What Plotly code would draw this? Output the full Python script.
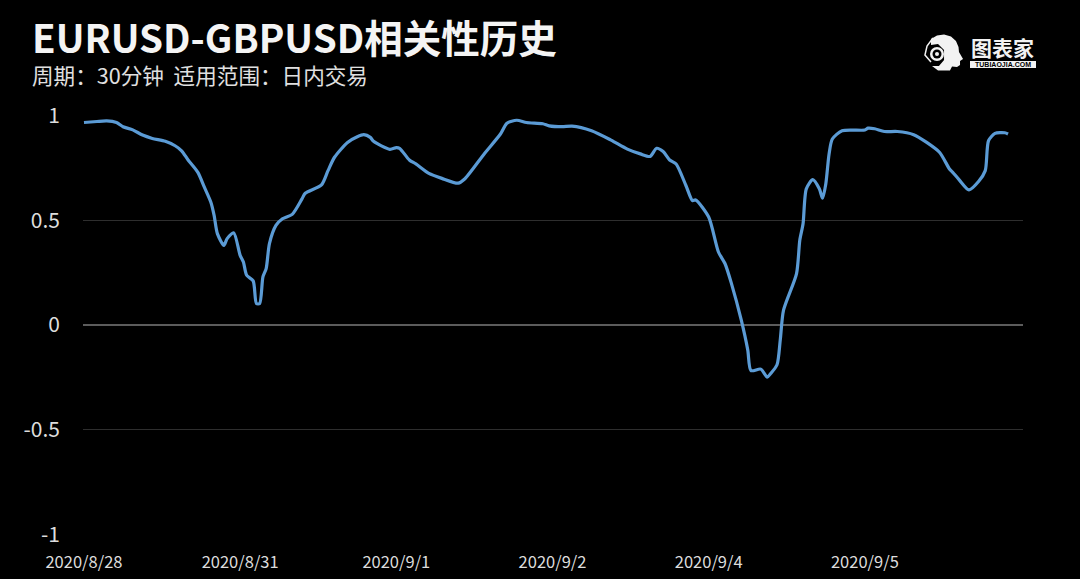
import plotly.graph_objects as go

W = 1080
H = 579
FONT = "Noto Sans CJK SC"

tick_bars = [0, 48, 96, 144, 192, 240]
tick_labels = ["2020/8/28", "2020/8/31", "2020/9/1", "2020/9/2", "2020/9/4", "2020/9/5"]
y_ticks = [-1, -0.5, 0, 0.5, 1]
y_labels = ["-1", "-0.5", "0", "0.5", "1"]

# half hour bars
bars = [0, 4, 7, 10, 12, 15, 18, 21, 25, 28, 30, 32, 35, 37, 39, 40, 41, 43, 44, 46, 48, 49, 50, 52, 53, 54,
        55, 56, 57, 59, 61, 64, 67, 68, 73, 75, 77, 81, 84, 86, 88, 89, 94, 96, 97, 100, 102, 106, 110, 115,
        117, 123, 128, 130, 133, 136, 141, 143, 147, 150, 156, 162, 167, 171, 174, 176, 178, 180, 182, 185,
        187, 188, 192, 195, 197, 199, 202, 204, 205, 208, 210, 211, 213, 214, 215, 219, 220, 221, 222, 224,
        226, 227, 228, 229, 230, 233, 240, 241, 243, 246, 250, 255, 259, 263, 266, 267, 269, 272, 275, 277,
        278, 280, 283, 284]
corr = [0.968, 0.973, 0.976, 0.968, 0.948, 0.933, 0.908, 0.892, 0.878, 0.857, 0.833, 0.789, 0.73, 0.659, 0.587,
        0.524, 0.437, 0.381, 0.413, 0.441, 0.333, 0.301, 0.238, 0.211, 0.103, 0.103,
        0.23, 0.27, 0.389, 0.476, 0.508, 0.529, 0.603, 0.63, 0.67, 0.738, 0.802, 0.873, 0.9, 0.91, 0.897, 0.878,
        0.84, 0.848, 0.845, 0.789, 0.77, 0.725, 0.701, 0.678,
        0.698, 0.818, 0.913, 0.965, 0.979, 0.968, 0.962, 0.952, 0.948, 0.951, 0.929, 0.884, 0.841, 0.818, 0.806,
        0.845, 0.829, 0.789, 0.77, 0.667,
        0.595, 0.598, 0.516, 0.349, 0.294, 0.198, 0.024, -0.119, -0.218, -0.211, -0.249, -0.233, -0.19, -0.071,
        0.071, 0.246, 0.405, 0.484, 0.651, 0.695,
        0.651, 0.606, 0.675, 0.818, 0.889, 0.929, 0.932, 0.941, 0.938, 0.925, 0.925, 0.91, 0.873, 0.825, 0.746,
        0.73, 0.694, 0.646, 0.687, 0.738,
        0.881, 0.916, 0.919, 0.913]


def fx(p):
    return (p - 83) / (1023 - 83)


def fy(p):
    return (535 - p) / (535 - 115)


def label(x, y, text, size, color, bold=False):
    if bold:
        text = "<b>" + text + "</b>"
    fig.add_annotation(x=fx(x), y=fy(y), xref="paper", yref="paper", text=text, showarrow=False,
                       xanchor="left", yanchor="middle", font=dict(family=FONT, size=size, color=color))


def circle(x, y, r, color):
    fig.add_shape(type="circle", xref="paper", yref="paper", x0=fx(x - r), x1=fx(x + r), y0=fy(y - r), y1=fy(y + r),
                  fillcolor=color, line_width=0)


def logo_path(points):
    d = "M " + " L ".join(f"{fx(a):.4f},{fy(b):.4f}" for a, b in points) + " Z"
    fig.add_shape(type="path", xref="paper", yref="paper", path=d, fillcolor="#f2f2f2", line_width=0)


fig = go.Figure()
fig.add_trace(go.Scatter(x=bars, y=corr, mode="lines", line=dict(color="#5b9bd5", width=3.2, shape="spline", smoothing=0.7),
                         hoverinfo="skip", showlegend=False))

fig.update_layout(
    width=W, height=H, autosize=False,
    paper_bgcolor="#000000", plot_bgcolor="#000000",
    margin=dict(l=83, r=57, t=115, b=44),
    font=dict(family=FONT, color="#e6e6e6"),
)
fig.update_xaxes(range=[-0.3, 288.6], tickmode="array", tickvals=tick_bars, ticktext=tick_labels,
                 showgrid=False, zeroline=False, showline=False, ticks="", tickfont=dict(size=16.5, color="#dddddd"),
                 ticklabelstandoff=15, ticklabeloverflow="allow", automargin=False)
# a hair wider than -1..1, plotly drops gridlines sitting right on the edge
fig.update_yaxes(range=[-1.004, 1.004], tickmode="array", tickvals=y_ticks, ticktext=y_labels, showgrid=True,
                 gridcolor="#2e2e2e", gridwidth=1, zeroline=True, zerolinecolor="#5c5c5c", zerolinewidth=1.5,
                 showline=False, ticks="", ticklabelstandoff=22, tickfont=dict(size=21, color="#dddddd"), automargin=False)

label(30, 36, "EURUSD-GBPUSD相关性历史", 38.5, "#f4f4f4", bold=True)
label(30, 75, "周期：30分钟  适用范围：日内交易", 21.6, "#e0e0e0")

# logo
logo_path([(931, 39), (937, 35.5), (944, 34.5), (951, 36.5), (956, 41), (958.5, 47), (959, 52), (963, 59), (960, 61),
           (960, 65), (957, 67), (952, 66.5), (950, 70.5), (938, 70.5), (932, 66), (939, 66), (944, 60), (944, 50),
           (938, 44), (931, 45)])
fig.add_shape(type="path", xref="paper", yref="paper",
              path=f"M {fx(933):.4f},{fy(38):.4f} L {fx(927):.4f},{fy(46):.4f} L {fx(925):.4f},{fy(55):.4f} L {fx(931):.4f},{fy(62):.4f}",
              line=dict(color="#f2f2f2", width=1.5))
circle(937, 54, 7, "#f2f2f2")
circle(937, 54, 4.5, "#000000")
circle(937, 54, 2, "#f2f2f2")
label(969, 47, "图表家", 21, "#f2f2f2", bold=True)
fig.add_shape(type="rect", xref="paper", yref="paper", x0=fx(970), x1=fx(1036), y0=fy(61), y1=fy(68),
              fillcolor="#f2f2f2", line_width=0)
fig.add_annotation(x=fx(1003), y=fy(64.5), xref="paper", yref="paper", text="<b>TUBIAOJIA.COM</b>", showarrow=False,
                   xanchor="center", yanchor="middle", font=dict(family="Liberation Sans", size=7, color="#000000"))

fig.write_html("out.html", config=dict(displayModeBar=False),
               post_script="document.body.style.margin='0';document.body.style.background='#000';")
